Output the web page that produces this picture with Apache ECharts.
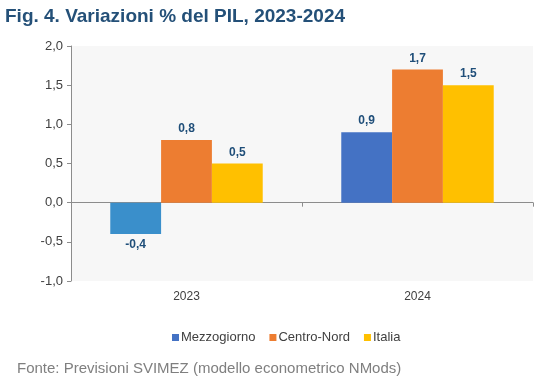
<!DOCTYPE html>
<html>
<head>
<meta charset="utf-8">
<script src="https://cdn.jsdelivr.net/npm/echarts@6/dist/echarts.min.js"></script>
<style>
html,body{margin:0;padding:0;background:#fff;}
#c{width:540px;height:391px;}
</style>
</head>
<body>
<div id="c"></div>
<script>
var categories = ['2023', '2024'];
var mezzogiorno = [-0.4, 0.9];
var centroNord = [0.8, 1.7];
var italia = [0.5, 1.5];
var seriesNames = ['Mezzogiorno', 'Centro-Nord', 'Italia'];
var yTicks = [-1.0, -0.5, 0.0, 0.5, 1.0, 1.5, 2.0];

function fmt(v){ return Number(v).toFixed(1).replace('.', ','); }

function toData(arr){
  return arr.map(function(v){
    return v < 0 ? {value: v, label: {position: 'bottom'}} : v;
  });
}

var mezzData = toData(mezzogiorno);
// first bar drawn in lighter blue in the reference
mezzData[0] = {value: mezzogiorno[0], itemStyle: {color: '#3a8fcb'}, label: {position: 'bottom'}};

var labelStyle = {
  show: true, position: 'top', distance: 5,
  color: '#1f4e79', fontWeight: 'bold', fontSize: 12,
  fontFamily: 'Liberation Sans, Arial, sans-serif',
  formatter: function(p){ return fmt(p.value); }
};

var chart = echarts.init(document.getElementById('c'), null, {renderer: 'canvas'});
chart.setOption({
  animation: false,
  backgroundColor: '#ffffff',
  title: [{
    text: 'Fig. 4. Variazioni % del PIL, 2023-2024',
    left: 0, top: 2,
    textStyle: {color: '#245078', fontSize: 19, fontWeight: 'bold', fontFamily: 'Liberation Sans, Arial, sans-serif'}
  }, {
    text: 'Fonte: Previsioni SVIMEZ (modello econometrico NMods)',
    left: 12, top: 356,
    textStyle: {color: '#7f7f7f', fontSize: 15, fontWeight: 'normal', fontFamily: 'Liberation Sans, Arial, sans-serif'}
  }],
  legend: {
    data: seriesNames,
    left: 167, top: 326,
    itemWidth: 7, itemHeight: 7, itemGap: 14,
    icon: 'rect',
    textStyle: {color: '#404040', fontSize: 13, fontFamily: 'Liberation Sans, Arial, sans-serif', padding: [0,0,0,-3]}
  },
  grid: {left: 71, right: 7, top: 46, bottom: 110, show: true, backgroundColor: '#f7f7f7', borderWidth: 0},
  xAxis: [{
    type: 'category', data: categories,
    axisLine: {onZero: true, lineStyle: {color: '#8c8c8c', width: 1}},
    axisTick: {show: true, length: 4, lineStyle: {color: '#8c8c8c'}},
    axisLabel: {show: false},
    splitLine: {show: false}
  }, {
    type: 'category', data: categories, position: 'bottom',
    axisLine: {show: false, onZero: false},
    axisTick: {show: false},
    axisLabel: {show: true, margin: 10, color: '#404040', fontSize: 12, fontFamily: 'Liberation Sans, Arial, sans-serif'}
  }],
  yAxis: {
    type: 'value', min: yTicks[0], max: yTicks[yTicks.length-1], interval: 0.5,
    axisLine: {show: true, lineStyle: {color: '#8c8c8c'}},
    axisTick: {show: true, length: 4, lineStyle: {color: '#8c8c8c'}},
    splitLine: {show: false},
    axisLabel: {margin: 8, color: '#404040', fontSize: 13, fontFamily: 'Liberation Sans, Arial, sans-serif', formatter: fmt}
  },
  series: [{
    name: seriesNames[0], type: 'bar', data: mezzData,
    itemStyle: {color: '#4472c4'}, label: labelStyle,
    barGap: '0%', barCategoryGap: '34%'
  }, {
    name: seriesNames[1], type: 'bar', data: toData(centroNord),
    itemStyle: {color: '#ed7d31'}, label: labelStyle
  }, {
    name: seriesNames[2], type: 'bar', data: toData(italia),
    itemStyle: {color: '#ffc000'}, label: labelStyle
  }]
});
</script>
</body>
</html>
